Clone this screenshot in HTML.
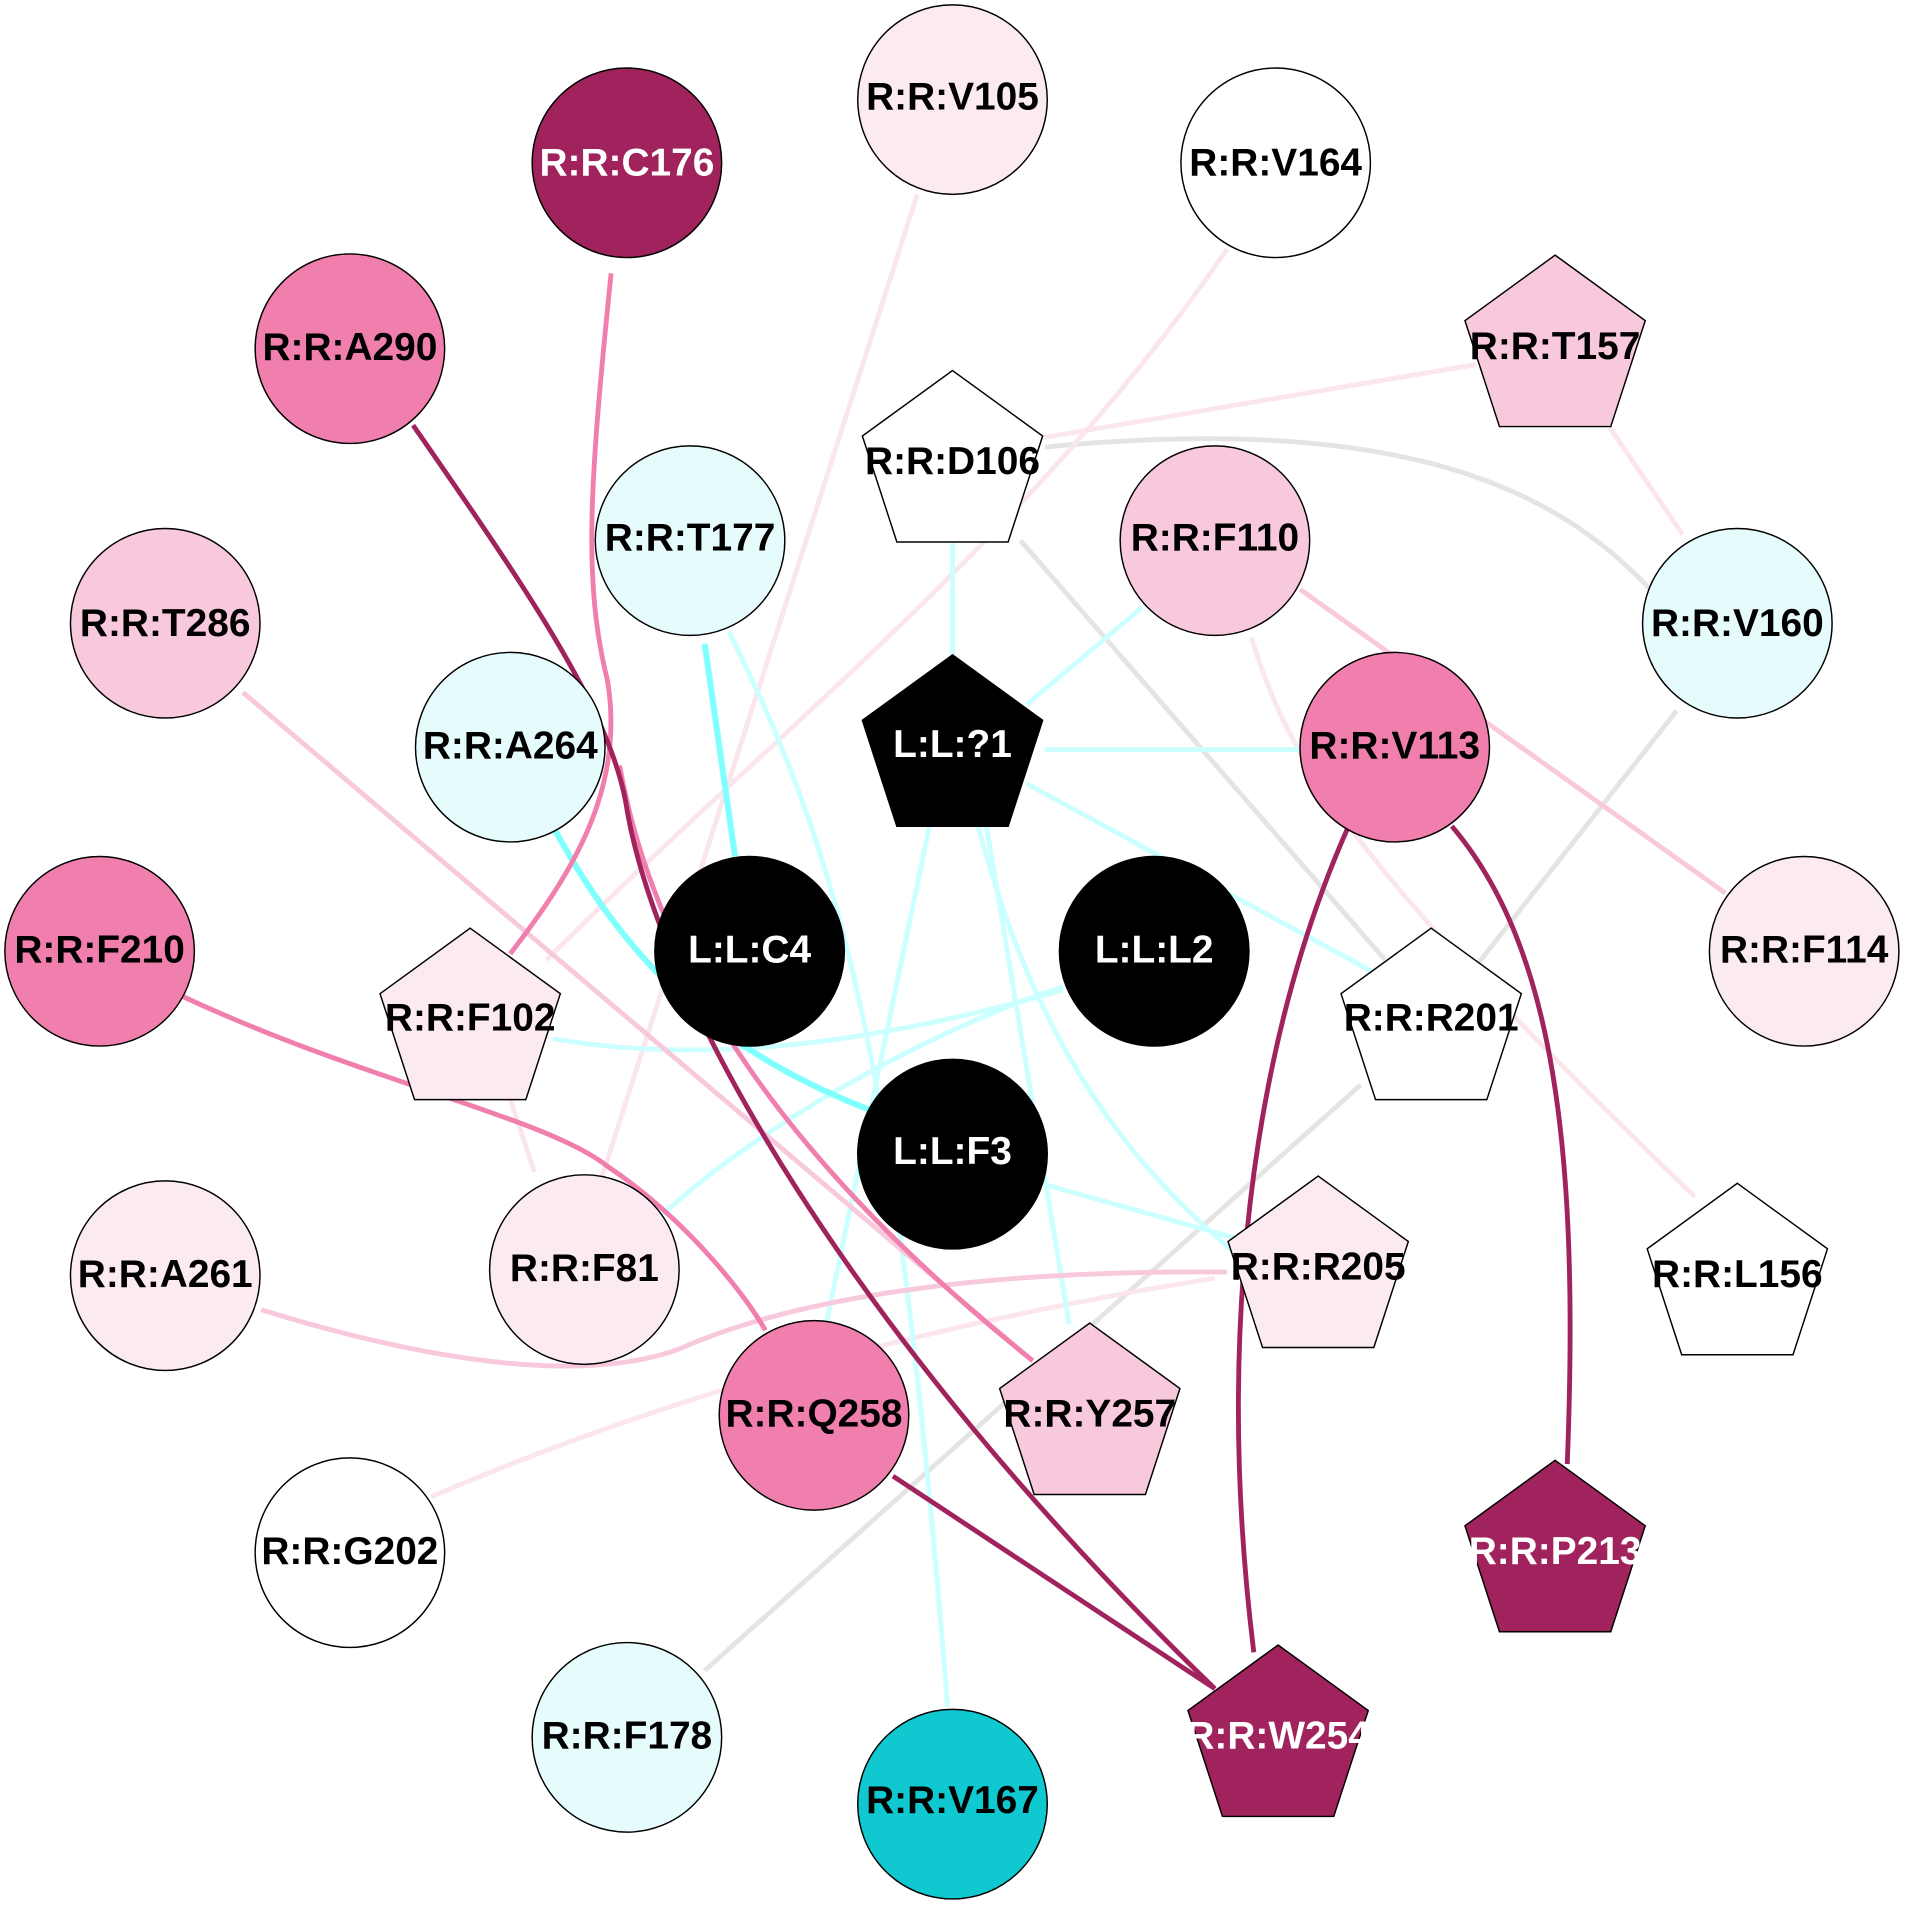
<!DOCTYPE html>
<html><head><meta charset="utf-8"><style>html,body{margin:0;padding:0;background:#fff}svg{display:block}</style></head><body>
<svg width="1905" height="1905" viewBox="0 0 1568 1568" xmlns="http://www.w3.org/2000/svg" font-family="Liberation Sans, Arial, sans-serif" font-weight="bold" font-size="32">
<g fill="none" stroke-width="4">
<path d="M860,360 L1215,300" stroke="#fbe6ee"/>
<path d="M1325,352 L1385,440" stroke="#fbe6ee"/>
<path d="M860,368 C1150,340 1280,400 1360,487" stroke="#e4e4e4"/>
<path d="M840,445 L1140,790" stroke="#e4e4e4"/>
<path d="M1380,585 L1215,795" stroke="#e4e4e4"/>
<path d="M1120,893 L580,1375" stroke="#e4e4e4"/>
<path d="M1000,1052 C700,1100 500,1170 355,1232" stroke="#fbe6ee"/>
<path d="M1030,525 C1060,620 1100,700 1395,985" stroke="#fbe6ee"/>
<path d="M1010,205 C850,440 640,600 450,790" stroke="#fbe6ee"/>
<path d="M755,160 L495,970" stroke="#fbe6ee"/>
<path d="M420,905 L440,965" stroke="#fbe6ee"/>
<path d="M784,447 L784,540" stroke="#ccffff"/>
<path d="M860,617 L1070,617" stroke="#ccffff"/>
<path d="M845,645 L1130,800" stroke="#ccffff"/>
<path d="M940,500 L845,580" stroke="#ccffff"/>
<path d="M805,680 C850,850 920,950 1015,1030" stroke="#ccffff"/>
<path d="M812,680 L880,1090" stroke="#ccffff"/>
<path d="M765,680 L680,1090" stroke="#ccffff"/>
<path d="M600,520 C700,720 740,900 780,1405" stroke="#ccffff"/>
<path d="M875,815 C750,850 600,880 455,855" stroke="#ccffff"/>
<path d="M875,812 C760,850 620,930 545,1000" stroke="#ccffff"/>
<path d="M860,975 L1020,1020" stroke="#ccffff"/>
<path d="M455,680 C520,800 600,870 720,915" stroke="#80ffff" stroke-width="5"/>
<path d="M580,530 L605,705" stroke="#80ffff" stroke-width="5"/>
<path d="M200,570 L850,1120" stroke="#f8c8dc"/>
<path d="M1070,485 L1420,735" stroke="#f8c8dc"/>
<path d="M215,1078 C350,1120 480,1140 560,1110 C650,1070 800,1045 1010,1047" stroke="#f8c8dc"/>
<path d="M503,225 C485,400 480,480 500,560 C515,650 470,720 420,785" stroke="#f07fad"/>
<path d="M510,630 C540,800 650,960 850,1120" stroke="#f07fad"/>
<path d="M150,820 C300,890 450,920 500,960 C560,1000 610,1060 630,1095" stroke="#f07fad"/>
<path d="M340,350 C430,480 500,580 515,660 C540,820 700,1100 1000,1390" stroke="#a0235e"/>
<path d="M735,1215 L1000,1390" stroke="#a0235e"/>
<path d="M1110,680 C1030,860 1000,1100 1032,1360" stroke="#a0235e"/>
<path d="M1195,680 C1280,780 1300,950 1290,1205" stroke="#a0235e"/>
</g>
<g stroke="#000" stroke-width="1.2">
<circle cx="516" cy="134" r="78" fill="#a0235e"/>
<circle cx="784" cy="82" r="78" fill="#fbeaf2"/>
<circle cx="1050" cy="134" r="78" fill="#fff"/>
<circle cx="288" cy="287" r="78" fill="#f07fad"/>
<circle cx="568" cy="445" r="78" fill="#e6fcfc"/>
<circle cx="1000" cy="445" r="78" fill="#f8c8dc"/>
<circle cx="1430" cy="513" r="78" fill="#e6fcfc"/>
<circle cx="136" cy="513" r="78" fill="#f8c8dc"/>
<circle cx="420" cy="615" r="78" fill="#e6fcfc"/>
<circle cx="1148" cy="615" r="78" fill="#f07fad"/>
<circle cx="617" cy="783" r="78" fill="#000"/>
<circle cx="950" cy="783" r="78" fill="#000"/>
<circle cx="82" cy="783" r="78" fill="#f07fad"/>
<circle cx="1485" cy="783" r="78" fill="#fbeaf2"/>
<circle cx="784" cy="950" r="78" fill="#000"/>
<circle cx="136" cy="1050" r="78" fill="#fbeaf2"/>
<circle cx="481" cy="1045" r="78" fill="#fbeaf2"/>
<circle cx="670" cy="1165" r="78" fill="#f07fad"/>
<circle cx="288" cy="1278" r="78" fill="#fff"/>
<circle cx="516" cy="1430" r="78" fill="#e6fcfc"/>
<circle cx="784" cy="1485" r="78" fill="#10c8d0"/>
</g>
<g stroke="#000" stroke-width="1.2">
<polygon points="0,-78 74.2,-24.1 45.8,63.1 -45.8,63.1 -74.2,-24.1" transform="translate(1280,288)" fill="#f8c8dc"/>
<polygon points="0,-78 74.2,-24.1 45.8,63.1 -45.8,63.1 -74.2,-24.1" transform="translate(784,383)" fill="#fff"/>
<polygon points="0,-78 74.2,-24.1 45.8,63.1 -45.8,63.1 -74.2,-24.1" transform="translate(784,617)" fill="#000"/>
<polygon points="0,-78 74.2,-24.1 45.8,63.1 -45.8,63.1 -74.2,-24.1" transform="translate(387,842)" fill="#fbeaf2"/>
<polygon points="0,-78 74.2,-24.1 45.8,63.1 -45.8,63.1 -74.2,-24.1" transform="translate(1178,842)" fill="#fff"/>
<polygon points="0,-78 74.2,-24.1 45.8,63.1 -45.8,63.1 -74.2,-24.1" transform="translate(1085,1046)" fill="#fbeaf2"/>
<polygon points="0,-78 74.2,-24.1 45.8,63.1 -45.8,63.1 -74.2,-24.1" transform="translate(1430,1052)" fill="#fff"/>
<polygon points="0,-78 74.2,-24.1 45.8,63.1 -45.8,63.1 -74.2,-24.1" transform="translate(897,1167)" fill="#f8c8dc"/>
<polygon points="0,-78 74.2,-24.1 45.8,63.1 -45.8,63.1 -74.2,-24.1" transform="translate(1280,1280)" fill="#a0235e"/>
<polygon points="0,-78 74.2,-24.1 45.8,63.1 -45.8,63.1 -74.2,-24.1" transform="translate(1052,1432)" fill="#a0235e"/>
</g>
<g text-anchor="middle" dominant-baseline="central">
<text x="516" y="134" fill="#fff">R:R:C176</text>
<text x="784" y="80">R:R:V105</text>
<text x="1050" y="134">R:R:V164</text>
<text x="288" y="286">R:R:A290</text>
<text x="1280" y="285">R:R:T157</text>
<text x="784" y="380">R:R:D106</text>
<text x="568" y="443">R:R:T177</text>
<text x="1000" y="443">R:R:F110</text>
<text x="1430" y="513">R:R:V160</text>
<text x="136" y="513">R:R:T286</text>
<text x="784" y="613" fill="#fff">L:L:?1</text>
<text x="420" y="614">R:R:A264</text>
<text x="1148" y="614">R:R:V113</text>
<text x="617" y="782" fill="#fff">L:L:C4</text>
<text x="950" y="782" fill="#fff">L:L:L2</text>
<text x="82" y="782">R:R:F210</text>
<text x="1485" y="782">R:R:F114</text>
<text x="387" y="838">R:R:F102</text>
<text x="1178" y="838">R:R:R201</text>
<text x="784" y="948" fill="#fff">L:L:F3</text>
<text x="136" y="1049">R:R:A261</text>
<text x="481" y="1044">R:R:F81</text>
<text x="1085" y="1043">R:R:R205</text>
<text x="1430" y="1049">R:R:L156</text>
<text x="670" y="1164">R:R:Q258</text>
<text x="897" y="1164">R:R:Y257</text>
<text x="288" y="1277">R:R:G202</text>
<text x="1280" y="1277" fill="#fff">R:R:P213</text>
<text x="516" y="1429">R:R:F178</text>
<text x="1052" y="1429" fill="#fff">R:R:W254</text>
<text x="784" y="1482">R:R:V167</text>
</g>
</svg>
</body></html>
